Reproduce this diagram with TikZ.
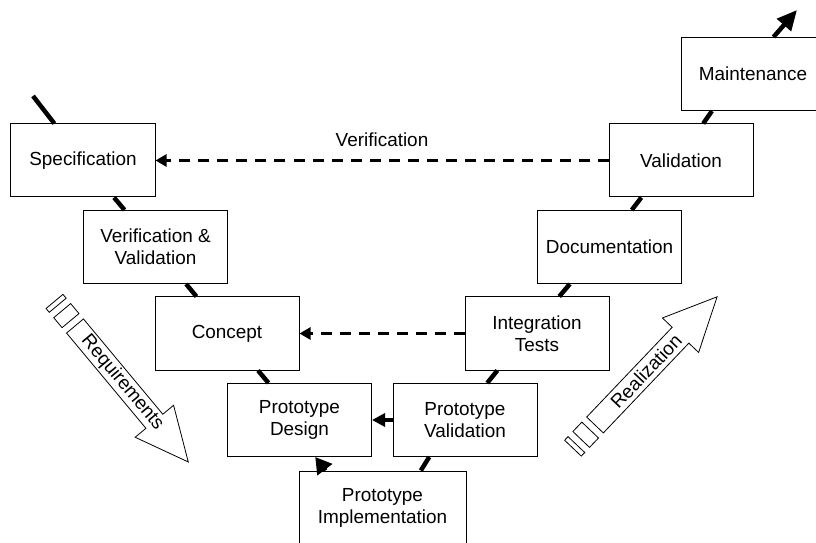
\documentclass[tikz,border=0pt]{standalone}
\usepackage{fontspec}
\setmainfont{Liberation Sans}
\usetikzlibrary{arrows.meta}
\tikzset{
  phase/.style={draw,line width=1bp,fill=white,minimum width=144bp,minimum height=73bp,align=center,inner sep=2bp},
  vline/.style={line width=4.5bp},
  checkline/.style={line width=3bp,dash pattern=on 11bp off 8bp,-{Triangle[length=11bp,width=12bp]}},
  bigarrow/.style={draw,line width=0.8bp,fill=white},
}
\begin{document}
\begin{tikzpicture}[x=1bp,y=-1bp,font=\fontsize{19}{22}\selectfont]
\useasboundingbox (0,0) rectangle (816,543);
\coordinate (vstart) at (33,96);
\coordinate (vend) at (797,10);

\node [phase] (spec) at (83,160.5) {Specification};
\node [phase] (vandv) at (155.5,247) {Verification \&\\Validation};
\node [phase] (concept) at (227,333.5) {Concept};
\node [phase] (design) at (299.5,420) {Prototype\\Design};
\node [phase,minimum width=167bp] (impl) at (382.5,507.5) {Prototype\\Implementation};
\node [phase] (protoval) at (465,420) {Prototype\\Validation};
\node [phase] (integ) at (537,333.5) {Integration\\Tests};
\node [phase] (docu) at (609.5,247) {Documentation};
\node [phase] (valid) at (681,160.5) {Validation};
\node [phase] (maint) at (753,74) {Maintenance};

\draw [vline] (vstart) -- (spec);
\draw [vline] (spec) -- (vandv);
\draw [vline] (vandv) -- (concept);
\draw [vline] (concept) -- (design);
\draw [vline,-{Triangle[length=16bp,width=18bp]}] (impl.147) -- (design.-67);
\draw [vline] (impl.44) -- (protoval.226);
\draw [vline] (protoval.59) -- (integ.223);
\draw [vline] (integ.59) -- (docu.223);
\draw [vline] (docu.59) -- (valid.223);
\draw [vline] (valid.59) -- (maint.222);
\draw [vline,-{Triangle[length=20bp,width=18bp]}] (maint.61) -- (vend);

\draw [checkline] (valid) -- (spec) node [midway,above=9bp,inner sep=3bp] (verlabel) {Verification};
\draw [checkline] (integ) -- (concept);
\draw [vline,-{Triangle[length=13bp,width=13bp]}] (protoval) -- (design);

\begin{scope}[shift={(75,326)},rotate=-50.2]
\draw [bigarrow] (0,-11) -- (124,-11) -- (124,-25) -- (177,0) -- (124,25) -- (124,11) -- (0,11) -- cycle;
\draw [bigarrow] (-20,-11) rectangle (-7,11);
\draw [bigarrow] (-32,-11) rectangle (-27,11);
\node [rotate=-50.2] (reqlabel) at (74,0) {Requirements};
\end{scope}

\begin{scope}[shift={(595,425)},rotate=46.4]
\draw [bigarrow] (0,-11.5) -- (124,-11.5) -- (124,-25) -- (177,0) -- (124,25) -- (124,11.5) -- (0,11.5) -- cycle;
\draw [bigarrow] (-20,-11.5) rectangle (-7,11.5);
\draw [bigarrow] (-32,-11.5) rectangle (-27,11.5);
\node [rotate=46.4] (reallabel) at (74,0) {Realization};
\end{scope}
\end{tikzpicture}
\end{document}
